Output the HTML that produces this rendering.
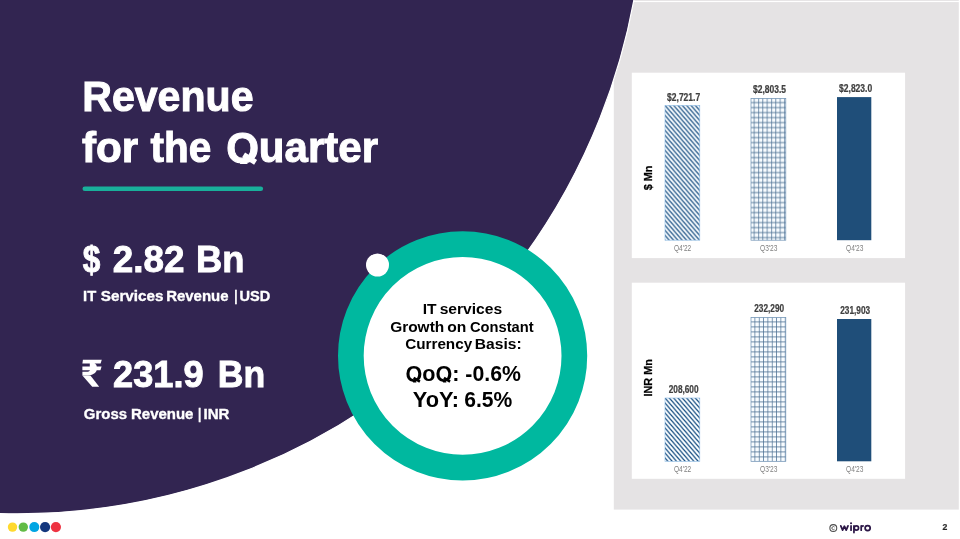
<!DOCTYPE html>
<html>
<head>
<meta charset="utf-8">
<title>Revenue for the Quarter</title>
<style>
html,body{margin:0;padding:0;}
body{width:960px;height:539px;overflow:hidden;background:#ffffff;position:relative;font-family:"Liberation Sans",sans-serif;}
#bg{position:absolute;left:0;top:0;width:960px;height:539px;}
.t{position:absolute;left:0;top:0;white-space:nowrap;line-height:1;margin:0;transform-origin:0 0;}
#txt{position:absolute;left:0;top:0;width:960px;height:539px;will-change:transform;}
</style>
</head>
<body>
<svg id="bg" width="960" height="539" viewBox="0 0 960 539">
  <defs>
    <pattern id="diag" width="4.33" height="5" patternUnits="userSpaceOnUse">
      <rect width="4.33" height="5" fill="#fafdff"/>
      <path d="M-4.33,-5 L8.66,10 M-8.66,-5 L4.33,10 M0,-5 L12.99,10" stroke="#1d5285" stroke-width="1.25"/>
    </pattern>
    <pattern id="grid" width="4.33" height="5" patternUnits="userSpaceOnUse">
      <rect width="4.33" height="5" fill="#f8fcff"/>
      <path d="M3.2,0 V5 M0,4.2 H4.33" stroke="#4a6f92" stroke-width="0.8"/>
    </pattern>
    <pattern id="grid2" width="4.33" height="5" patternUnits="userSpaceOnUse">
      <rect width="4.33" height="5" fill="#f8fcff"/>
      <path d="M3.95,0 V5 M0,4.6 H4.33" stroke="#4a6f92" stroke-width="0.8"/>
    </pattern>
  </defs>
  <!-- grey panel -->
  <rect x="613.8" y="0" width="345" height="509.6" fill="#e5e3e4"/>
  <rect x="613.8" y="0.9" width="346.2" height="1.2" fill="#ffffff"/>
  <!-- purple disc -->
  <circle cx="17.6" cy="-112.6" r="626.4" fill="#322551" stroke="#ffffff" stroke-width="1.2"/>
  <!-- chart boxes -->
  <rect x="631.8" y="72.7" width="273.3" height="185.4" fill="#ffffff"/>
  <rect x="631.8" y="282.7" width="273.3" height="196.1" fill="#ffffff"/>
  <!-- top bars -->
  <g transform="translate(665,105.4)"><rect x="0" y="0" width="34.8" height="134.8" fill="url(#diag)" stroke="#8dbbe4" stroke-width="0.6"/></g>
  <g transform="translate(751,98.4)"><rect x="0" y="0" width="34.8" height="141.8" fill="url(#grid)" stroke="#6f93b5" stroke-width="0.7"/></g>
  <rect x="837" y="97.1" width="34.3" height="143.1" fill="#1f4e79"/>
  <!-- bottom bars -->
  <g transform="translate(665,398)"><rect x="0" y="0" width="34.8" height="63.3" fill="url(#diag)" stroke="#8dbbe4" stroke-width="0.6"/></g>
  <g transform="translate(751,317.4)"><rect x="0" y="0" width="34.8" height="143.9" fill="url(#grid2)" stroke="#6f93b5" stroke-width="0.7"/></g>
  <rect x="837" y="319" width="34.3" height="142.3" fill="#1f4e79"/>
  <!-- teal underline -->
  <line x1="84.8" y1="188.8" x2="260.8" y2="188.8" stroke="#19b09b" stroke-width="4.6" stroke-linecap="round"/>
  <!-- ring -->
  <circle cx="462.6" cy="355.85" r="111.75" fill="#ffffff" stroke="#00b89f" stroke-width="25.7"/>
  <circle cx="377.5" cy="265" r="11.5" fill="#ffffff"/>
  <!-- rupee -->
  <g fill="#ffffff">
    <path d="M82.9,359.8 H101.8 L100.6,363.6 H82.4 Z"/>
    <path d="M82.4,366.4 H101.6 L100.4,370.2 H82.4 Z"/>
    <path d="M89.8,363 L89.8,370.2 Q89.6,371.8 86,371.8 L82.4,371.8 L82.4,375.4 L88,375.4 Q97,375 97,368 Q97,364.5 94.5,363 Z"/>
    <path d="M82.4,375.4 L90.4,375.4 L99.2,386.7 L92.2,386.7 Z"/>
  </g>
  <!-- dots -->
  <circle cx="12.5" cy="527.1" r="4.7" fill="#ffd92e"/>
  <circle cx="23.3" cy="527.1" r="4.7" fill="#62bb46"/>
  <circle cx="34.3" cy="527.1" r="5" fill="#00a5e3"/>
  <circle cx="45.1" cy="527.1" r="5.1" fill="#14377d"/>
  <circle cx="55.9" cy="527.1" r="5.1" fill="#ee3342"/>
  <!-- copyright -->
  <circle cx="833.3" cy="528.1" r="3.45" fill="none" stroke="#4d4d4d" stroke-width="1.05"/>
  <path d="M834.5,527.0 A1.55,1.55 0 1 0 834.5,529.2" fill="none" stroke="#4d4d4d" stroke-width="0.9"/>
  <!-- wipro wordmark -->
  <g fill="none" stroke="#2c1747" stroke-width="1.75" stroke-linecap="round" stroke-linejoin="round">
    <path d="M840.8,525.9 L842.6,530.2 L844.4,526.2 L846.2,530.2 L848.0,525.9"/>
    <path d="M851.05,525.9 V530.2"/>
    <path d="M853.95,525.9 V532.6"/>
    <circle cx="856.4" cy="528.05" r="2.15"/>
    <path d="M861.2,525.9 V530.2 M861.2,527.6 Q861.4,525.9 863.1,525.9"/>
    <circle cx="867.65" cy="528.05" r="2.55"/>
  </g>
  <circle cx="851.05" cy="523.3" r="1.05" fill="#2c1747"/>
</svg>

<div id="txt">
<div class="t" style="font-size:42.67px;font-weight:bold;-webkit-text-stroke:1.0px currentColor;color:#ffffff;transform:translate(82.25px,74.78px) scale(0.9631,1.0119);">Revenue</div>
<div class="t" style="font-size:42.67px;font-weight:bold;-webkit-text-stroke:1.0px currentColor;color:#ffffff;transform:translate(81.99px,125.63px) scale(0.9880,1.0119);">for</div>
<div class="t" style="font-size:42.67px;font-weight:bold;-webkit-text-stroke:1.0px currentColor;color:#ffffff;transform:translate(150.60px,125.63px) scale(0.9494,1.0119);">the</div>
<div class="t" style="font-size:42.67px;font-weight:bold;-webkit-text-stroke:1.0px currentColor;color:#ffffff;transform:translate(226.14px,125.63px) scale(0.9858,1.0119);">Quarter</div>
<div class="t" style="font-size:37.33px;font-weight:bold;-webkit-text-stroke:0.9px currentColor;color:#ffffff;transform:translate(82.66px,241.16px) scale(0.8469,0.9982);">$</div>
<div class="t" style="font-size:37.33px;font-weight:bold;-webkit-text-stroke:0.9px currentColor;color:#ffffff;transform:translate(112.68px,241.16px) scale(0.9875,0.9982);">2.82</div>
<div class="t" style="font-size:37.33px;font-weight:bold;-webkit-text-stroke:0.9px currentColor;color:#ffffff;transform:translate(196.12px,241.16px) scale(0.9738,0.9982);">Bn</div>
<div class="t" style="font-size:14.67px;font-weight:bold;-webkit-text-stroke:0.35px currentColor;color:#ffffff;transform:translate(83.11px,289.24px) scale(1.0026,0.9968);">IT</div>
<div class="t" style="font-size:14.67px;font-weight:bold;-webkit-text-stroke:0.35px currentColor;color:#ffffff;transform:translate(100.74px,289.24px) scale(1.0413,0.9968);">Services</div>
<div class="t" style="font-size:14.67px;font-weight:bold;-webkit-text-stroke:0.35px currentColor;color:#ffffff;transform:translate(166.17px,289.24px) scale(1.0195,0.9968);">Revenue</div>
<div class="t" style="font-size:14.67px;font-weight:bold;-webkit-text-stroke:0.35px currentColor;color:#ffffff;transform:translate(234.37px,289.24px) scale(0.8063,0.9968);">|</div>
<div class="t" style="font-size:14.67px;font-weight:bold;-webkit-text-stroke:0.35px currentColor;color:#ffffff;transform:translate(239.51px,289.24px) scale(0.9912,0.9968);">USD</div>
<div class="t" style="font-size:37.33px;font-weight:bold;-webkit-text-stroke:0.9px currentColor;color:#ffffff;transform:translate(113.08px,356.01px) scale(0.9691,1.0043);">231.9</div>
<div class="t" style="font-size:37.33px;font-weight:bold;-webkit-text-stroke:0.9px currentColor;color:#ffffff;transform:translate(217.82px,356.01px) scale(0.9545,1.0043);">Bn</div>
<div class="t" style="font-size:14.67px;font-weight:bold;-webkit-text-stroke:0.35px currentColor;color:#ffffff;transform:translate(83.87px,407.26px) scale(1.0190,0.9988);">Gross</div>
<div class="t" style="font-size:14.67px;font-weight:bold;-webkit-text-stroke:0.35px currentColor;color:#ffffff;transform:translate(130.97px,407.26px) scale(1.0226,0.9988);">Revenue</div>
<div class="t" style="font-size:14.67px;font-weight:bold;-webkit-text-stroke:0.35px currentColor;color:#ffffff;transform:translate(197.95px,407.26px) scale(0.8094,0.9988);">|</div>
<div class="t" style="font-size:14.67px;font-weight:bold;-webkit-text-stroke:0.35px currentColor;color:#ffffff;transform:translate(203.53px,407.26px) scale(1.0250,0.9988);">INR</div>
<div class="t" style="font-size:14.67px;font-weight:bold;color:#000000;transform:translate(422.75px,301.68px) scale(1.0611,1.0435);">IT</div>
<div class="t" style="font-size:14.67px;font-weight:bold;color:#000000;transform:translate(439.66px,301.68px) scale(1.0640,1.0435);">services</div>
<div class="t" style="font-size:14.67px;font-weight:bold;color:#000000;transform:translate(390.15px,319.87px) scale(1.0539,1.0210);">Growth</div>
<div class="t" style="font-size:14.67px;font-weight:bold;color:#000000;transform:translate(447.31px,319.87px) scale(1.0652,1.0210);">on</div>
<div class="t" style="font-size:14.67px;font-weight:bold;color:#000000;transform:translate(469.98px,319.87px) scale(1.0027,1.0210);">Constant</div>
<div class="t" style="font-size:14.67px;font-weight:bold;color:#000000;transform:translate(405.18px,336.92px) scale(1.0406,1.0210);">Currency</div>
<div class="t" style="font-size:14.67px;font-weight:bold;color:#000000;transform:translate(474.85px,336.92px) scale(1.0634,1.0210);">Basis:</div>
<div class="t" style="font-size:21.33px;font-weight:bold;color:#000000;transform:translate(405.49px,363.80px) scale(1.0128,1.0144);">QoQ:</div>
<div class="t" style="font-size:21.33px;font-weight:bold;color:#000000;transform:translate(465.36px,363.80px) scale(0.9977,1.0144);">-0.6%</div>
<div class="t" style="font-size:21.33px;font-weight:bold;color:#000000;transform:translate(412.74px,389.96px) scale(1.0211,1.0144);">YoY:</div>
<div class="t" style="font-size:21.33px;font-weight:bold;color:#000000;transform:translate(464.23px,389.96px) scale(0.9881,1.0144);">6.5%</div>
<div class="t" style="font-size:10.67px;font-weight:bold;-webkit-text-stroke:0.25px currentColor;color:#404040;transform:translate(667.06px,92.29px) scale(0.7977,0.9798);">$2,721.7</div>
<div class="t" style="font-size:10.67px;font-weight:bold;-webkit-text-stroke:0.25px currentColor;color:#404040;transform:translate(753.04px,84.42px) scale(0.7949,0.9647);">$2,803.5</div>
<div class="t" style="font-size:10.67px;font-weight:bold;-webkit-text-stroke:0.25px currentColor;color:#404040;transform:translate(839.06px,83.29px) scale(0.7985,0.9798);">$2,823.0</div>
<div class="t" style="font-size:8.5px;font-weight:normal;color:#7f7f7f;transform:translate(673.91px,243.55px) scale(0.7716,1.0792);">Q4&#x27;22</div>
<div class="t" style="font-size:8.5px;font-weight:normal;color:#7f7f7f;transform:translate(760.01px,243.55px) scale(0.7780,1.0792);">Q3&#x27;23</div>
<div class="t" style="font-size:8.5px;font-weight:normal;color:#7f7f7f;transform:translate(846.01px,243.55px) scale(0.7744,1.0792);">Q4&#x27;23</div>
<div class="t" style="font-size:10.67px;font-weight:bold;-webkit-text-stroke:0.25px currentColor;color:#404040;transform:translate(668.68px,384.72px) scale(0.7758,0.9468);">208,600</div>
<div class="t" style="font-size:10.67px;font-weight:bold;-webkit-text-stroke:0.25px currentColor;color:#404040;transform:translate(754.22px,303.61px) scale(0.7765,0.9468);">232,290</div>
<div class="t" style="font-size:10.67px;font-weight:bold;-webkit-text-stroke:0.25px currentColor;color:#404040;transform:translate(840.22px,305.61px) scale(0.7754,0.9468);">231,903</div>
<div class="t" style="font-size:8.5px;font-weight:normal;color:#7f7f7f;transform:translate(673.91px,464.64px) scale(0.7716,1.0792);">Q4&#x27;22</div>
<div class="t" style="font-size:8.5px;font-weight:normal;color:#7f7f7f;transform:translate(760.01px,464.64px) scale(0.7780,1.0792);">Q3&#x27;23</div>
<div class="t" style="font-size:8.5px;font-weight:normal;color:#7f7f7f;transform:translate(846.01px,464.64px) scale(0.7744,1.0792);">Q4&#x27;23</div>
<div class="t" style="font-size:10.67px;font-weight:bold;-webkit-text-stroke:0.25px currentColor;color:#000000;transform:translate(643.18px,190.25px) rotate(-90deg) scale(1.0105,1.0005);">$ Mn</div>
<div class="t" style="font-size:10.67px;font-weight:bold;-webkit-text-stroke:0.25px currentColor;color:#000000;transform:translate(642.96px,396.54px) rotate(-90deg) scale(1.0210,1.0268);">INR Mn</div>
<div class="t" style="font-size:8.6px;font-weight:bold;-webkit-text-stroke:0.2px currentColor;color:#262626;transform:translate(942.52px,523.17px) scale(1.0111,0.9949);">2</div>
<div class="t" style="font-size:37.33px;font-weight:bold;color:transparent;transform:translate(81px,355px);">₹</div>
<div class="t" style="font-size:12.6px;font-weight:bold;color:transparent;transform:translate(840px,520.8px) scale(0.94,1);">wipro</div>
</div>
<svg id="fx" width="960" height="539" viewBox="0 0 960 539" style="position:absolute;left:0;top:0;">
  <!-- Q tail corrections -->
  <rect x="237" y="164" width="22" height="10" fill="#322551"/>
  <line x1="243.6" y1="154.9" x2="255.6" y2="162.4" stroke="#ffffff" stroke-width="5.6"/>
  <rect x="411" y="382.5" width="10.5" height="4" fill="#ffffff"/>
  <rect x="441" y="382.5" width="10.5" height="4" fill="#ffffff"/>
  <line x1="413.6" y1="377.9" x2="419.9" y2="381.6" stroke="#000000" stroke-width="2.6"/>
  <line x1="443.9" y1="377.9" x2="450.1" y2="381.6" stroke="#000000" stroke-width="2.6"/>
</svg>
</body>
</html>
